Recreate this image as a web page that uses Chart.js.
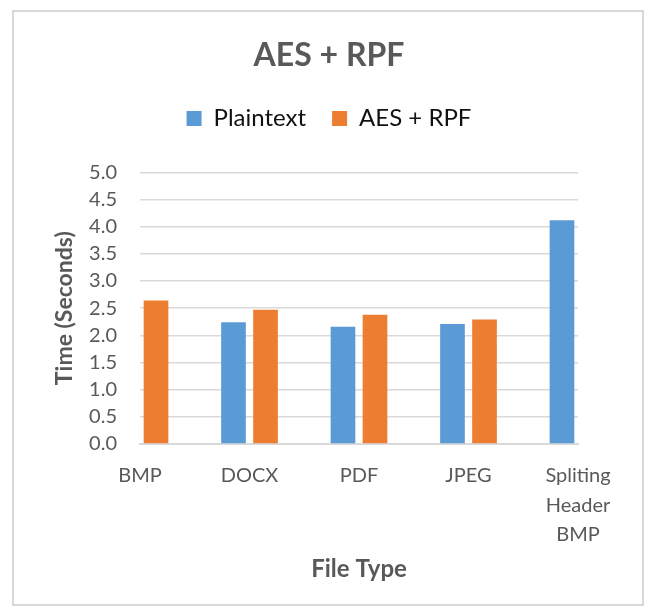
<!DOCTYPE html>
<html>
<head>
<meta charset="utf-8">
<script src="https://cdn.jsdelivr.net/npm/chart.js@4.4.1/dist/chart.umd.min.js"></script>
<style>
  html, body { margin: 0; padding: 0; background: #ffffff; }
  #frame {
    position: absolute; left: 12px; top: 10px;
    width: 632px; height: 596px;
    border: 2px solid #d9d9d9; box-sizing: border-box;
  }
  #wrap { position: absolute; left: 0; top: 0; width: 648px; height: 616px; }
</style>
</head>
<body>
<div id="frame"></div>
<div id="wrap"><canvas id="aesChart"></canvas></div>
<script>
// data
const fileTypes = ['BMP', 'DOCX', 'PDF', 'JPEG', ['Spliting', 'Header', 'BMP']];
const plaintextTimes = [null, 2.24, 2.16, 2.21, 4.12];
const aesRpfTimes = [2.64, 2.47, 2.38, 2.29, null];
const yTicks = [0, 0.5, 1, 1.5, 2, 2.5, 3, 3.5, 4, 4.5, 5];

const FONT = 'Lato, "Open Sans", sans-serif';
const textGrey = '#595959';
const gridGrey = '#d9d9d9';

function createAesChart() {
    const ctx = document.getElementById('aesChart').getContext('2d');

    return new Chart(ctx, {
        type: 'bar',
        data: {
            labels: fileTypes,
            datasets: [
                {
                    label: 'Plaintext',
                    data: plaintextTimes,
                    backgroundColor: '#5b9bd5',
                    categoryPercentage: 0.585,
                    barPercentage: 0.77,
                    clip: 0
                },
                {
                    label: 'AES + RPF',
                    data: aesRpfTimes,
                    backgroundColor: '#ed7d31',
                    categoryPercentage: 0.585,
                    barPercentage: 0.77,
                    clip: 0
                }
            ]
        },
        options: {
            responsive: true,
            maintainAspectRatio: false,
            animation: false,
            devicePixelRatio: 1,
            layout: { padding: { left: 80, right: 70, top: 0, bottom: 32 } },
            plugins: {
                title: {
                    display: true,
                    text: 'AES + RPF',
                    color: textGrey,
                    font: { family: FONT, size: 32, weight: 'bold', lineHeight: 1.2 },
                    padding: { top: 36, bottom: 6 }
                },
                legend: {
                    labels: {
                        color: '#111111',
                        font: { family: FONT, size: 24 },
                        boxWidth: 15,
                        boxHeight: 15,
                        padding: 26
                    }
                },
                // empty spacer under the legend
                subtitle: {
                    display: true,
                    text: ' ',
                    weight: 500,
                    font: { size: 2, lineHeight: 1 },
                    padding: { top: 30, bottom: 0 }
                },
                tooltip: { enabled: false }
            },
            scales: {
                x: {
                    offset: false,
                    afterFit: (scale) => { scale.height = 140; },
                    grid: { display: false, offset: false, drawTicks: false },
                    border: { color: gridGrey, width: 2 },
                    ticks: {
                        color: textGrey,
                        font: { family: FONT, size: 20, lineHeight: 1.475 },
                        padding: 17,
                        maxRotation: 0,
                        autoSkip: false
                    },
                    title: {
                        display: true,
                        text: 'File Type',
                        color: textGrey,
                        font: { family: FONT, size: 24, weight: 'bold', lineHeight: 1.2 },
                        padding: { top: 0, bottom: 0 }
                    }
                },
                y: {
                    min: 0,
                    max: 5,
                    afterBuildTicks: (scale) => { scale.ticks = yTicks.map(v => ({ value: v })); },
                    afterFit: (scale) => { scale.width = 60; },
                    grid: { color: gridGrey, lineWidth: 1.5, drawTicks: false },
                    border: { display: false },
                    ticks: {
                        color: textGrey,
                        font: { family: FONT, size: 20 },
                        padding: 23,
                        callback: (v) => Number(v).toFixed(1)
                    },
                    title: {
                        display: true,
                        text: 'Time (Seconds)',
                        color: textGrey,
                        font: { family: FONT, size: 23, weight: 'bold', lineHeight: 1.2 },
                        // pulls the title left of the scale box, towards the frame
                        padding: { top: -29, bottom: 0 }
                    }
                }
            }
        }
    });
}

window.aesChart = createAesChart();
</script>
</body>
</html>
